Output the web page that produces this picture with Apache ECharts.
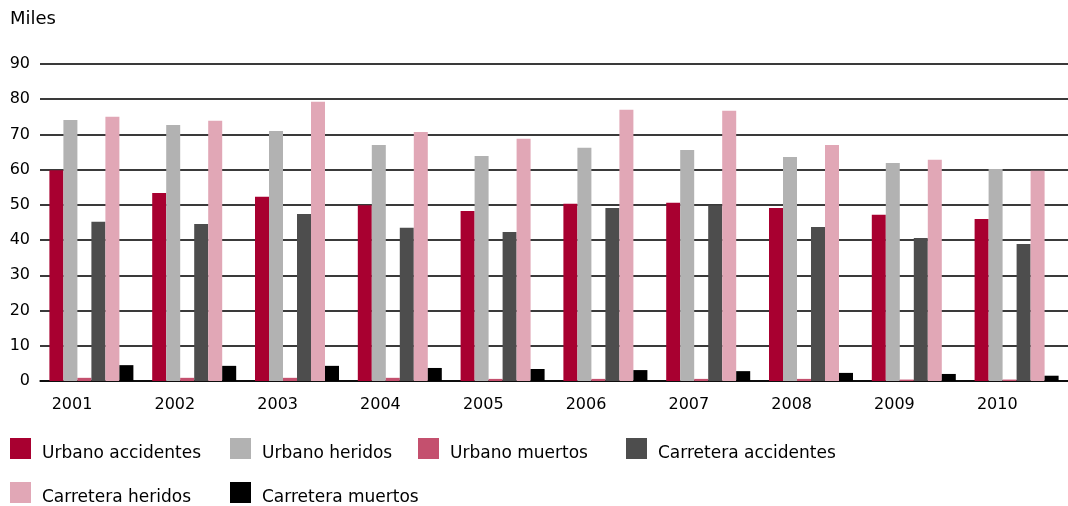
<!DOCTYPE html>
<html><head><meta charset="utf-8">
<script src="https://cdn.jsdelivr.net/npm/echarts@6/dist/echarts.min.js"></script>
<style>html,body{margin:0;padding:0;background:#fff}#c{width:1068px;height:506px}</style>
</head><body><div id="c"></div>
<script>
const categories = ['2001','2002','2003','2004','2005','2006','2007','2008','2009','2010'];
const urbanoAccidentes = [59.8, 53.4, 52.3, 49.9, 48.3, 50.3, 50.6, 49.1, 47.2, 46.0];
const urbanoHeridos    = [74.1, 72.7, 71.0, 67.0, 63.9, 66.2, 65.6, 63.6, 61.9, 60.2];
const urbanoMuertos    = [0.9, 0.9, 0.9, 0.9, 0.6, 0.6, 0.6, 0.6, 0.4, 0.4];
const carreteraAccidentes = [45.2, 44.6, 47.4, 43.5, 42.3, 49.1, 49.8, 43.7, 40.6, 38.9];
const carreteraHeridos = [75.0, 73.9, 79.3, 70.7, 68.8, 77.0, 76.7, 67.0, 62.8, 59.7];
const carreteraMuertos = [4.5, 4.3, 4.3, 3.7, 3.4, 3.1, 2.8, 2.3, 2.0, 1.5];
const yTicks = [0, 10, 20, 30, 40, 50, 60, 70, 80, 90];

const names = ['Urbano accidentes','Urbano heridos','Urbano muertos','Carretera accidentes','Carretera heridos','Carretera muertos'];
const values = [urbanoAccidentes, urbanoHeridos, urbanoMuertos, carreteraAccidentes, carreteraHeridos, carreteraMuertos];
const colors = ['#a80030','#b2b2b2','#c4506e','#4d4d4d','#e1a7b6','#000000'];
const legendPos = [[10,438],[230,438],[418,438],[626,438],[10,482],[230,482]];
const FONT = 'DejaVu Sans';

const chart = echarts.init(document.getElementById('c'), null, {renderer:'canvas'});
chart.setOption({
  animation: false,
  backgroundColor: '#fff',
  textStyle: {fontFamily: FONT},
  graphic: [{type:'text', left: 10, top: 10, style:{text:'Miles', font:'18px "DejaVu Sans"', fill:'#000'}}],
  grid: {left: 40, right: 0, top: 64, bottom: 125, containLabel: false},
  legend: names.map((n,i)=>({
    data:[n], left: legendPos[i][0], top: legendPos[i][1], padding: 0,
    itemWidth: 21, itemHeight: 21, icon: 'rect', selectedMode: false,
    formatter: '{t|{name}}',
    textStyle: {fontFamily: FONT, fontSize: 17, color: '#000',
      rich: {t: {fontFamily: FONT, fontSize: 17, color: '#000', padding: [10, 0, 0, 6]}}}
  })),
  xAxis: {
    type: 'category', data: categories,
    axisLine: {show: true, lineStyle: {color: '#000', width: 1.5}},
    axisTick: {show: false},
    axisLabel: {fontFamily: FONT, fontSize: 16, color: '#000', margin: 16, align: 'right', padding:[0,-1,0,0]}
  },
  yAxis: {
    type: 'value', min: 0, max: 90, interval: 10,
    axisLine: {show: false}, axisTick: {show: false},
    splitLine: {lineStyle: {color: '#3a3a3a', width: 2}},
    axisLabel: {fontFamily: FONT, fontSize: 16, color: '#000', margin: 10,
      formatter: v => yTicks.includes(v) ? String(v) : ''}
  },
  series: names.map((n,i)=>({
    name: n, type: 'bar', data: values[i],
    itemStyle: {color: colors[i]},
    barWidth: 14, barGap: '0%', barCategoryGap: '18%'
  }))
});
</script></body></html>
